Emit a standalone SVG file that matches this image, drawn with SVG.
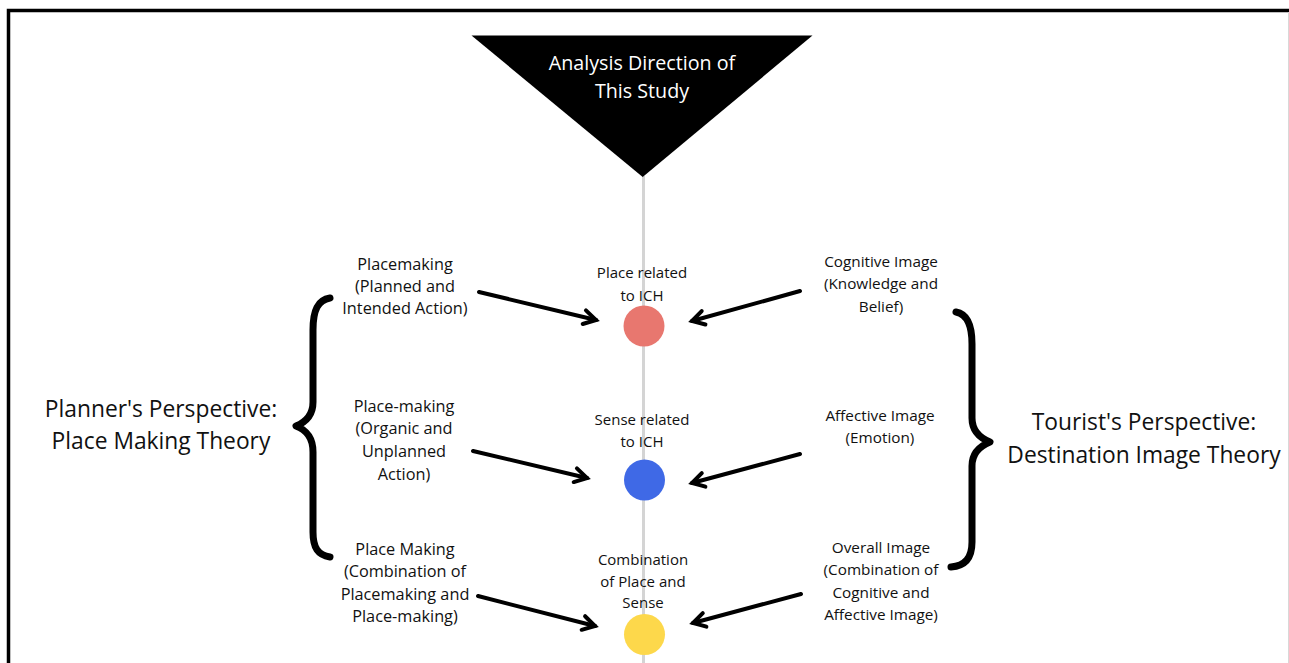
<svg xmlns="http://www.w3.org/2000/svg" width="1289" height="663" viewBox="0 0 1289 663">
<style>
  text { font-family: "Open Sans", "Noto Sans", "Liberation Sans", sans-serif; fill: #111; text-anchor: middle; }
  .lbl { font-size: 15px; }
  .lblL { font-size: 16.3px; }
  .lblR { font-size: 15.3px; }
  .big { font-size: 22.8px; }
  .tri { font-size: 19.7px; fill: #fff; }
  .arrow { stroke: #000; stroke-width: 4; fill: none; stroke-linecap: round; }
  .brace { stroke: #000; stroke-width: 7; fill: none; stroke-linecap: round; stroke-linejoin: round; }
</style>
<defs>
  <marker id="ah" viewBox="0 0 20 20" refX="16" refY="10" markerWidth="5" markerHeight="5" orient="auto" markerUnits="strokeWidth">
    <path d="M4,3 L16,10 L4,17" fill="none" stroke="#000" stroke-width="4" stroke-linecap="round" stroke-linejoin="miter"/>
  </marker>
</defs>
<rect x="0" y="0" width="1289" height="663" fill="#fff"/>
<g id="frame">
  <path d="M8.5,663 L8.5,10.5 L1289,10.5" fill="none" stroke="#000" stroke-width="3.5"/>
  <line x1="1288.5" y1="12" x2="1288.5" y2="663" stroke="#d8d8d8" stroke-width="1"/>
</g>
<g id="axis">
  <line x1="643.5" y1="176" x2="643.5" y2="663" stroke="#d4d4d4" stroke-width="3"/>
</g>
<g id="direction">
  <polygon points="471.5,35.5 812.5,35.5 642.7,177" fill="#000"/>
  <text class="tri" x="642" y="70">Analysis Direction of</text>
  <text class="tri" x="642" y="98">This Study</text>
</g>
<g id="node-place">
  <circle cx="644" cy="326" r="20.5" fill="#E8776F"/>
  <text class="lbl" x="642" y="278">Place related</text>
  <text class="lbl" x="642" y="301">to ICH</text>
</g>
<g id="node-sense">
  <circle cx="644.5" cy="480" r="20.5" fill="#3F69E6"/>
  <text class="lbl" x="642" y="425">Sense related</text>
  <text class="lbl" x="642" y="447">to ICH</text>
</g>
<g id="node-combination">
  <circle cx="644.5" cy="634.5" r="20.5" fill="#FDD84B"/>
  <text class="lbl" x="643" y="565">Combination</text>
  <text class="lbl" x="643" y="587">of Place and</text>
  <text class="lbl" x="643" y="608">Sense</text>
</g>
<g id="label-placemaking">
  <text class="lblL" x="405" y="270">Placemaking</text>
  <text class="lblL" x="405" y="292">(Planned and</text>
  <text class="lblL" x="405" y="314">Intended Action)</text>
</g>
<g id="label-place-making">
  <text class="lblL" x="404" y="412">Place-making</text>
  <text class="lblL" x="404" y="434">(Organic and</text>
  <text class="lblL" x="404" y="457">Unplanned</text>
  <text class="lblL" x="404" y="480">Action)</text>
</g>
<g id="label-place-making-comb">
  <text class="lblL" x="405" y="555">Place Making</text>
  <text class="lblL" x="405" y="577">(Combination of</text>
  <text class="lblL" x="405" y="600">Placemaking and</text>
  <text class="lblL" x="405" y="622">Place-making)</text>
</g>
<g id="label-cognitive">
  <text class="lblR" x="881" y="267">Cognitive Image</text>
  <text class="lblR" x="881" y="289">(Knowledge and</text>
  <text class="lblR" x="881" y="312">Belief)</text>
</g>
<g id="label-affective">
  <text class="lblR" x="880" y="421">Affective Image</text>
  <text class="lblR" x="880" y="443">(Emotion)</text>
</g>
<g id="label-overall">
  <text class="lblR" x="881" y="553">Overall Image</text>
  <text class="lblR" x="881" y="575">(Combination of</text>
  <text class="lblR" x="881" y="598">Cognitive and</text>
  <text class="lblR" x="881" y="620">Affective Image)</text>
</g>
<g id="planner">
  <path class="brace" d="M330,298 C318,300 313,310 313,330 L313,402 C313,415 306,422 296,426 C306,430 313,437 313,452 L313,532 C313,548 318,555 330,557"/>
  <text class="big" x="161" y="417">Planner's Perspective:</text>
  <text class="big" x="161" y="449">Place Making Theory</text>
</g>
<g id="tourist">
  <path class="brace" d="M956,312 C967,314 972,324 972,344 L972,418 C972,431 980,438 990,442 C980,446 972,453 972,466 L972,542 C972,558 965,566 951,567"/>
  <text class="big" x="1144" y="430">Tourist's Perspective:</text>
  <text class="big" x="1144" y="463">Destination Image Theory</text>
</g>
<g id="connectors">
  <line class="arrow" x1="479" y1="292" x2="596" y2="320" marker-end="url(#ah)"/>
  <line class="arrow" x1="473" y1="451" x2="587" y2="478" marker-end="url(#ah)"/>
  <line class="arrow" x1="478" y1="596" x2="595" y2="626" marker-end="url(#ah)"/>
  <line class="arrow" x1="800" y1="291" x2="692" y2="321" marker-end="url(#ah)"/>
  <line class="arrow" x1="800" y1="454" x2="692" y2="483" marker-end="url(#ah)"/>
  <line class="arrow" x1="801" y1="594" x2="693" y2="623" marker-end="url(#ah)"/>
</g>
</svg>
